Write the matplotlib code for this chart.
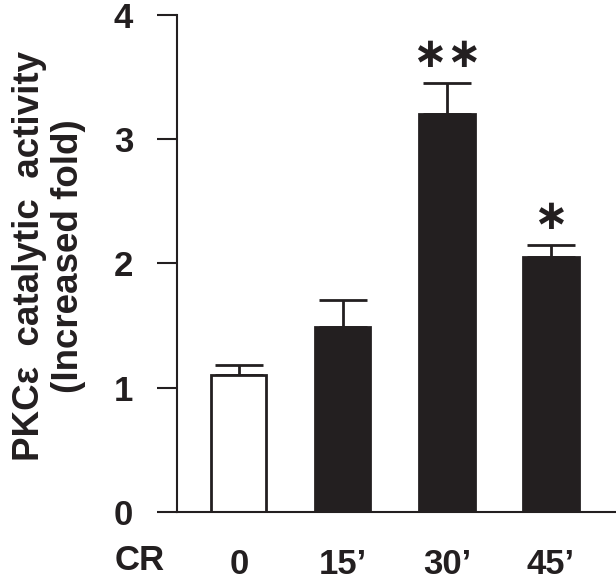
import matplotlib
matplotlib.use("Agg")
import matplotlib.pyplot as plt

categories = ["0", "15\u2019", "30\u2019", "45\u2019"]
values = [1.10, 1.49, 3.20, 2.05]
errors = [0.085, 0.215, 0.25, 0.10]
stars = ["", "", "\u2217\u2217", "\u2217"]
star_y = [None, None, 3.68, 2.37]
yticks = [0, 1, 2, 3, 4]

plt.rcParams['font.family'] = ['Liberation Sans', 'DejaVu Sans']
plt.rcParams['font.weight'] = 'bold'

dark = '#231f20'
fig = plt.figure(figsize=(6.16, 5.87), dpi=100)
ax = fig.add_axes([0.2869, 0.1283, 0.7131, 0.8462])

x = list(range(len(categories)))
faces = ['white', dark, dark, dark]
ax.bar(x, values, width=0.53, color=faces, edgecolor=dark, linewidth=2, zorder=2)
ax.errorbar(x, values, yerr=[[0]*len(errors), errors], fmt='none', ecolor=dark,
            elinewidth=2, capsize=17, capthick=2, zorder=1)

for xi, s, sy in zip(x, stars, star_y):
    if s:
        ax.text(xi, sy, s, ha='center', va='center', fontsize=30, color=dark,
                fontweight='bold', family=['DejaVu Sans'])

ax.set_xlim(-0.597, 3.625)
ax.set_ylim(0, 4)
ax.set_yticks(yticks)
ax.set_yticklabels([str(t) for t in yticks])
ax.set_xticks(x)
ax.set_xticklabels(categories)
ax.tick_params(axis='y', length=14.4, width=1.5, pad=17, labelsize=25, colors=dark)
ax.tick_params(axis='x', length=0, pad=26, labelsize=25, colors=dark)
for lab in ax.get_xticklabels() + ax.get_yticklabels():
    lab.set_fontweight('bold')

for sp in ['top', 'right']:
    ax.spines[sp].set_visible(False)
for sp in ['left', 'bottom']:
    ax.spines[sp].set_linewidth(1.5)
    ax.spines[sp].set_color(dark)

ax.set_ylabel("PKC\u03b5  catalytic  activity\n(Increased fold)", fontsize=26.5,
              fontweight='bold', color=dark, linespacing=1.15)
ax.yaxis.set_label_coords(-0.207, 0.514)

fig.text(140/616, 1 - 560/587, "CR", ha='center', va='center', fontsize=25,
         fontweight='bold', color=dark)

fig.savefig("out.png", dpi=100)
